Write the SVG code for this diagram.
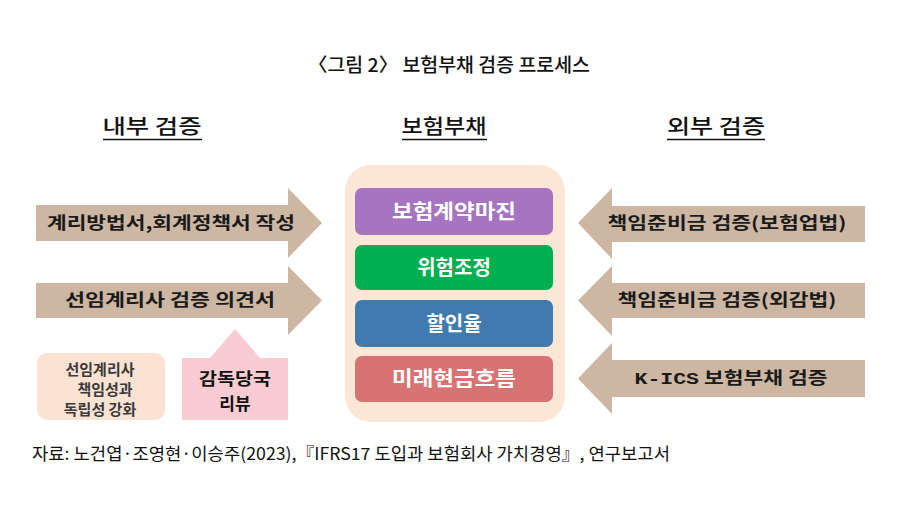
<svg xmlns="http://www.w3.org/2000/svg" width="915" height="529" viewBox="0 0 915 529">
<style>
.t{font-family:"Noto Sans CJK KR","Noto Sans",sans-serif;}
.title{font-size:19px;fill:#111;font-weight:500;}
.head{font-size:20px;fill:#111;font-weight:500;}
.ul{stroke:#111;stroke-width:1.5;}
.arr{fill:#cdb7a3;}
.at{font-size:17px;font-weight:bold;fill:#1a1a1a;}
.cb{font-size:20px;font-weight:bold;fill:#fff;}
.sm{font-size:15px;font-weight:bold;fill:#3a3a3a;}
.sv{font-size:17px;font-weight:bold;fill:#111;}
.foot{font-size:17px;fill:#111;}
</style>
<rect width="915" height="529" fill="#fff"/>
<text class="t title" x="449" y="72" text-anchor="middle" textLength="282" lengthAdjust="spacingAndGlyphs">〈그림 2〉 보험부채 검증 프로세스</text>

<g id="headings">
<text class="t head" x="152" y="134" text-anchor="middle" textLength="99" lengthAdjust="spacingAndGlyphs">내부 검증</text>
<line class="ul" x1="103" y1="139.5" x2="202" y2="139.5"/>
<text class="t head" x="444" y="134" text-anchor="middle" textLength="85" lengthAdjust="spacingAndGlyphs">보험부채</text>
<line class="ul" x1="402" y1="139.5" x2="487" y2="139.5"/>
<text class="t head" x="716" y="134" text-anchor="middle" textLength="98" lengthAdjust="spacingAndGlyphs">외부 검증</text>
<line class="ul" x1="667" y1="139.5" x2="765" y2="139.5"/>
</g>

<g id="connectors">
<g id="left-arrow-1">
<polygon class="arr" points="36,205 288,205 288,188 322,223 288,258 288,241 36,241"/>
<text class="t at" x="171" y="229" text-anchor="middle" textLength="248" lengthAdjust="spacingAndGlyphs">계리방법서,회계정책서 작성</text>
</g>
<g id="left-arrow-2">
<polygon class="arr" points="36,283 288,283 288,266 322,300.5 288,335 288,318 36,318"/>
<text class="t at" x="170" y="306" text-anchor="middle" textLength="210" lengthAdjust="spacingAndGlyphs">선임계리사 검증 의견서</text>
</g>
<g id="right-arrow-1">
<polygon class="arr" points="865,206 612,206 612,188 578,223 612,259 612,242 865,242"/>
<text class="t at" x="727" y="229" text-anchor="middle" textLength="239" lengthAdjust="spacingAndGlyphs">책임준비금 검증(보험업법)</text>
</g>
<g id="right-arrow-2">
<polygon class="arr" points="865,283 612,283 612,266 578,300.5 612,336 612,318 865,318"/>
<text class="t at" x="727" y="306" text-anchor="middle" textLength="219" lengthAdjust="spacingAndGlyphs">책임준비금 검증(외감법)</text>
</g>
<g id="right-arrow-3">
<polygon class="arr" points="865,360 612,360 612,343 578,378.5 612,414 612,397 865,397"/>
<text class="t at" x="731" y="384" text-anchor="middle" textLength="193" lengthAdjust="spacingAndGlyphs"><tspan style="font-family:'Liberation Mono',monospace;font-weight:bold">K-ICS</tspan> 보험부채 검증</text>
</g>
<g id="up-arrow">
<polygon fill="#f8ccd2" points="182,358 210,358 235,329 260,358 288,358 288,420 182,420"/>
</g>
</g>

<g id="liability">
<rect x="345" y="165" width="220" height="257" rx="26" fill="#fce6d6"/>
<g id="margin">
<rect x="355" y="188" width="198" height="47" rx="7" fill="#a774c2"/>
<text class="t cb" x="454" y="219" text-anchor="middle" textLength="124" lengthAdjust="spacingAndGlyphs">보험계약마진</text>
</g>
<g id="risk">
<rect x="355" y="245" width="198" height="45" rx="7" fill="#00b050"/>
<text class="t cb" x="454" y="275" text-anchor="middle">위험조정</text>
</g>
<g id="discount">
<rect x="355" y="300" width="198" height="47" rx="7" fill="#3f7bae"/>
<text class="t cb" x="454" y="331" text-anchor="middle">할인율</text>
</g>
<g id="cashflow">
<rect x="355" y="356" width="198" height="46" rx="7" fill="#d87373"/>
<text class="t cb" x="454" y="386" text-anchor="middle" textLength="124" lengthAdjust="spacingAndGlyphs">미래현금흐름</text>
</g>
</g>

<g id="actuary-box">
<rect x="37" y="353" width="128" height="67" rx="10" fill="#fce2d2"/>
<text class="t sm" text-anchor="middle"><tspan x="100" y="375">선임계리사</tspan><tspan x="105" y="395">책임성과</tspan><tspan x="100" y="415">독립성 강화</tspan></text>
</g>

<g id="supervisor">
<text class="t sv" x="235" y="385" text-anchor="middle" textLength="72" lengthAdjust="spacingAndGlyphs">감독당국</text>
<text class="t sv" x="235" y="410" text-anchor="middle">리뷰</text>
</g>

<text class="t foot" x="32" y="460" textLength="638" lengthAdjust="spacingAndGlyphs">자료: 노건엽·조영현·이승주(2023),『IFRS17 도입과 보험회사 가치경영』, 연구보고서</text>
</svg>
